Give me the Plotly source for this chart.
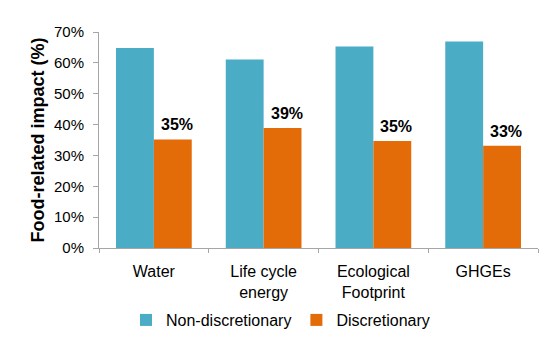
import plotly.graph_objects as go

categories = ["Water", "Life cycle<br>energy", "Ecological<br>Footprint", "GHGEs"]
non_discretionary = [0.648, 0.611, 0.653, 0.669]
discretionary = [0.352, 0.389, 0.347, 0.331]
y_ticks = [0, 0.1, 0.2, 0.3, 0.4, 0.5, 0.6, 0.7]

BLUE = "#4BACC6"
ORANGE = "#E36C09"
FONT = "Liberation Sans, Arial, sans-serif"

fig = go.Figure()
fig.add_trace(go.Bar(
    name="Non-discretionary", x=categories, y=non_discretionary,
    marker=dict(color=BLUE, line=dict(width=0)),
))
fig.add_trace(go.Bar(
    name="Discretionary", x=categories, y=discretionary,
    marker=dict(color=ORANGE, line=dict(width=0)),
))

# value labels above the discretionary bars
for cat, val in zip(categories, discretionary):
    fig.add_annotation(
        x=cat, y=val, xref="x", yref="y",
        text=f"<b>{val:.0%}</b>", showarrow=False,
        xanchor="center", yanchor="bottom", xshift=23, yshift=4,
        font=dict(size=16, color="#000000", family=FONT),
    )

fig.update_layout(
    width=550, height=343,
    margin=dict(l=99, r=12, t=32, b=95, autoexpand=False),
    paper_bgcolor="white", plot_bgcolor="white",
    font=dict(family=FONT, color="#000000"),
    barmode="group", bargap=0.31, bargroupgap=0,
    showlegend=True,
    legend=dict(
        orientation="h", xref="container", x=0.51, xanchor="center",
        yref="container", y=0.067, yanchor="middle",
        font=dict(size=16, family=FONT), itemwidth=30,
        traceorder="normal",
    ),
)
fig.update_xaxes(
    showline=True, linecolor="#A6A6A6", linewidth=1,
    ticks="outside", tickson="boundaries", ticklen=4, tickcolor="#A6A6A6",
    ticklabelstandoff=9,
    tickfont=dict(size=16, family=FONT), showgrid=False,
)
fig.update_yaxes(
    range=[0, 0.7], tickvals=y_ticks, tickformat=".0%",
    showline=True, linecolor="#A6A6A6", linewidth=1,
    ticks="outside", ticklen=5, tickcolor="#A6A6A6",
    ticklabelstandoff=6,
    tickfont=dict(size=15, family=FONT), showgrid=False, zeroline=False,
    title=dict(text="<b>Food-related impact (%)</b>", font=dict(size=18, family=FONT), standoff=4),
)

fig.write_html("out.html")
